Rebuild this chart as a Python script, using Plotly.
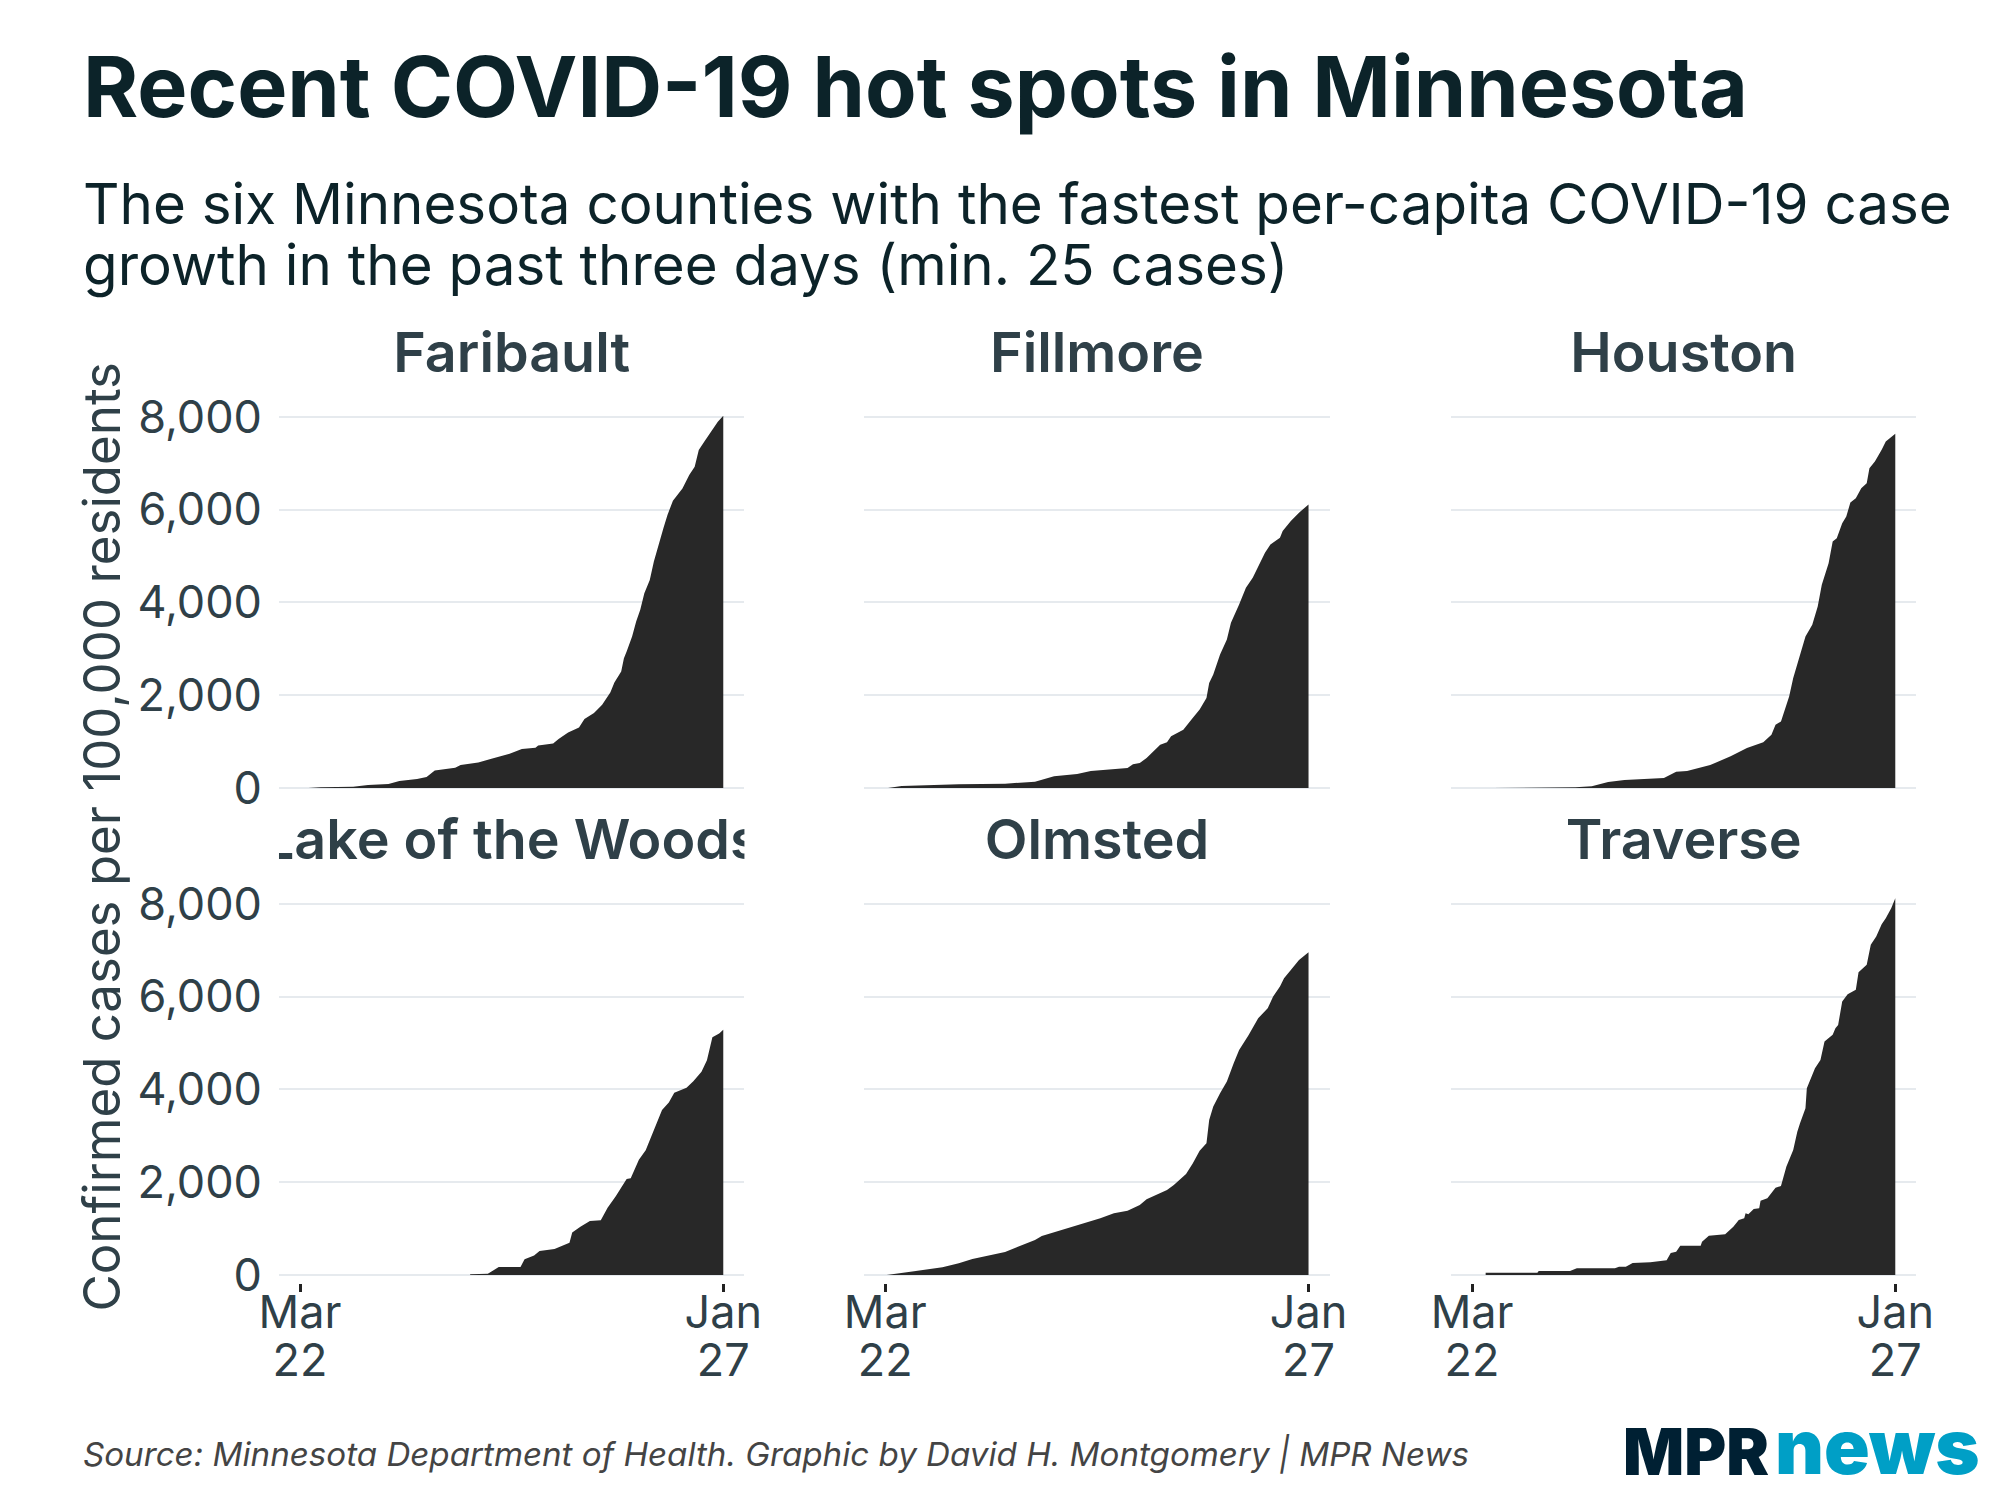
import pandas as pd
import plotly.graph_objects as go

W, H = 2000, 1500
START = "2020-03-22"
TITLE = "Recent COVID-19 hot spots in Minnesota"
SUB1 = "The six Minnesota counties with the fastest per-capita COVID-19 case"
SUB2 = "growth in the past three days (min. 25 cases)"
YTITLE = "Confirmed cases per 100,000 residents"
SOURCE = "Source: Minnesota Department of Health. Graphic by David H. Montgomery | MPR News"
Y_TICKS = [0, 2000, 4000, 6000, 8000]
Y_LABELS = ["0", "2,000", "4,000", "6,000", "8,000"]
X_TICKS = ["2020-03-22", "2021-01-27"]
X_MONTHS = ["Mar", "Jan"]
X_DAYS = ["22", "27"]
COUNTIES = ["Faribault", "Fillmore", "Houston", "Lake of the Woods", "Olmsted", "Traverse"]

faribault_days = [6, 15, 39, 50, 65, 73, 86, 93, 99, 114, 118, 131, 140, 149, 154, 163, 173, 175, 186, 190, 197, 205, 209, 216, 222, 228, 231, 236, 238, 240, 244, 247, 250, 253, 257, 260, 263, 267, 270, 274, 281, 286, 290, 293, 297, 302, 307, 311]
faribault_vals = [0, 14, 29, 65, 86, 150, 194, 237, 380, 438, 495, 552, 624, 696, 739, 840, 868, 918, 961, 1055, 1198, 1306, 1485, 1614, 1794, 2059, 2274, 2511, 2798, 2942, 3265, 3587, 3839, 4197, 4484, 4879, 5202, 5596, 5883, 6192, 6457, 6744, 6924, 7283, 7462, 7677, 7892, 8022]

fillmore_days = [2, 12, 54, 88, 110, 124, 141, 151, 178, 182, 187, 192, 202, 207, 210, 219, 225, 231, 236, 238, 241, 246, 251, 254, 260, 265, 270, 274, 279, 283, 290, 292, 298, 304, 311]
fillmore_vals = [0, 43, 79, 93, 137, 252, 302, 367, 431, 510, 539, 647, 935, 985, 1114, 1258, 1474, 1690, 1941, 2265, 2445, 2876, 3200, 3559, 3955, 4314, 4530, 4781, 5069, 5249, 5393, 5536, 5752, 5932, 6112]

houston_days = [15, 76, 88, 100, 112, 128, 141, 150, 158, 175, 190, 202, 214, 220, 223, 227, 233, 236, 240, 245, 250, 254, 257, 262, 265, 268, 272, 275, 278, 282, 286, 290, 292, 296, 301, 304, 311]
houston_vals = [0, 14, 36, 129, 172, 187, 215, 352, 366, 495, 682, 862, 984, 1149, 1364, 1436, 1974, 2369, 2764, 3267, 3518, 3913, 4380, 4846, 5313, 5385, 5708, 5852, 6153, 6247, 6462, 6570, 6893, 7036, 7288, 7467, 7632]

lake_days = [125, 138, 146, 162, 165, 172, 176, 187, 198, 200, 206, 213, 221, 226, 232, 240, 243, 249, 254, 262, 266, 271, 275, 284, 289, 295, 299, 303, 308, 311]
lake_vals = [15, 25, 173, 173, 338, 421, 520, 561, 693, 916, 1040, 1163, 1180, 1452, 1700, 2070, 2087, 2483, 2690, 3267, 3556, 3720, 3927, 4034, 4175, 4380, 4628, 5123, 5205, 5288]

olmsted_days = [1, 22, 42, 54, 64, 88, 110, 115, 139, 158, 168, 178, 187, 192, 207, 212, 221, 226, 231, 236, 238, 241, 246, 251, 256, 260, 267, 274, 281, 285, 290, 293, 298, 304, 311]
olmsted_vals = [0, 79, 165, 251, 345, 496, 755, 841, 1056, 1222, 1329, 1387, 1509, 1631, 1832, 1940, 2177, 2407, 2680, 2838, 3341, 3629, 3916, 4168, 4563, 4850, 5174, 5533, 5749, 6000, 6216, 6396, 6575, 6791, 6956]

traverse_days = [10, 48, 49, 72, 77, 105, 108, 113, 118, 131, 143, 146, 150, 153, 168, 169, 174, 186, 192, 196, 200, 201, 203, 207, 211, 212, 217, 223, 227, 231, 236, 239, 241, 245, 246, 252, 256, 259, 265, 267, 269, 272, 276, 282, 284, 290, 293, 297, 301, 304, 308, 311]
traverse_vals = [50, 50, 86, 86, 144, 144, 180, 180, 259, 273, 316, 474, 503, 632, 632, 719, 848, 877, 1042, 1186, 1222, 1330, 1308, 1423, 1437, 1603, 1653, 1883, 1919, 2336, 2695, 3090, 3270, 3594, 4025, 4456, 4636, 5031, 5175, 5318, 5390, 5893, 6051, 6145, 6526, 6684, 7115, 7295, 7560, 7690, 7906, 8121]

SERIES = [(faribault_days, faribault_vals), (fillmore_days, fillmore_vals), (houston_days, houston_vals),
          (lake_days, lake_vals), (olmsted_days, olmsted_vals), (traverse_days, traverse_vals)]

INK = "#0c2329"
SLATE = "#2f4048"
GRID = "#e6eaee"
AREA = "#282828"
FONT = "Inter"
X_RANGE = ["2020-03-06 13:00", "2021-02-11 13:00"]

# layout in pixels
COL_LEFT = [274.5, 863, 1453]
PANEL_W = 468
ROW_TOP = [408.8, 895.8]
PANEL_H = 387.2
TITLE_Y = [358, 845]

def px_x(p): return p / W
def px_y(p): return 1 - p / H

fig = go.Figure()
layout = dict(
    width=W, height=H, margin=dict(l=0, r=0, t=0, b=0), autosize=False,
    paper_bgcolor="white", plot_bgcolor="white", showlegend=False,
    font=dict(family=FONT, color=SLATE), hovermode=False,
)

start = pd.Timestamp(START)
for i, (county, (days, vals)) in enumerate(zip(COUNTIES, SERIES)):
    row, col = i // 3, i % 3
    n = i + 1
    xa, ya = f"x{n}", f"y{n}"
    dates = [(start + pd.Timedelta(days=int(d))).strftime("%Y-%m-%d") for d in days]
    fig.add_trace(go.Scatter(x=dates, y=vals, xaxis=xa, yaxis=ya, mode="lines",
                             line=dict(width=0, color=AREA), fill="tozeroy", fillcolor=AREA))
    left, top = COL_LEFT[col], ROW_TOP[row]
    dom = [px_x(left), px_x(left + PANEL_W)]
    layout[f"xaxis{n}"] = dict(
        domain=dom, anchor=ya, type="date", range=X_RANGE,
        showgrid=False, zeroline=False, showline=False,
        tickmode="array", tickvals=X_TICKS, ticktext=X_MONTHS if row == 1 else ["", ""],
        ticks="outside" if row == 1 else "", ticklen=8, tickwidth=2.5, tickcolor="#222222",
        ticklabelstandoff=-18, tickfont=dict(family=FONT, size=45, color=SLATE), tickangle=0, automargin=False,
    )
    layout[f"yaxis{n}"] = dict(
        domain=[px_y(top + PANEL_H), px_y(top)], anchor=xa, range=[-172, 8172],
        tickmode="array", tickvals=Y_TICKS, ticktext=Y_LABELS if col == 0 else [""] * 5,
        showgrid=True, gridcolor=GRID, gridwidth=2, zeroline=False, showline=False, ticks="",
        ticklabelstandoff=16, tickfont=dict(family=FONT, size=45, color=SLATE), automargin=False,
    )
    # facet strip: a hidden axis pair so the label is clipped to the panel width
    m = i + 7
    fig.add_trace(go.Scatter(x=[0.5], y=[0.5], xaxis=f"x{m}", yaxis=f"y{m}", mode="text",
                             text=[county], textposition="middle center", cliponaxis=True,
                             textfont=dict(family=FONT, size=55.6, color=SLATE, weight=600)))
    cy = TITLE_Y[row]
    layout[f"xaxis{m}"] = dict(domain=dom, anchor=f"y{m}", range=[0, 1], visible=False)
    layout[f"yaxis{m}"] = dict(domain=[px_y(cy + 45), px_y(cy - 45)], anchor=f"x{m}", range=[0, 1], visible=False)
    # second tick-label line of the date axis, set on its own overlaid axis
    if row == 1:
        d = i + 10
        fig.add_trace(go.Scatter(x=X_TICKS, y=[0, 0], xaxis=f"x{d}", yaxis=ya, mode="lines",
                                 line=dict(width=0, color=AREA), opacity=0))
        layout[f"xaxis{d}"] = dict(
            domain=dom, anchor=ya, overlaying=xa, type="date", range=X_RANGE,
            showgrid=False, zeroline=False, showline=False, tickmode="array", tickvals=X_TICKS, ticktext=X_DAYS,
            ticks="", ticklabelstandoff=47, tickfont=dict(family=FONT, size=45, color=SLATE), tickangle=0,
        )

def note(text, x, y, size, color=INK, weight=400, xanchor="left", style="normal", angle=0):
    return dict(text=text, x=px_x(x), y=px_y(y), xref="paper", yref="paper", xanchor=xanchor, yanchor="middle",
                showarrow=False, textangle=angle,
                font=dict(family=FONT, size=size, color=color, weight=weight, style=style))

layout["annotations"] = [
    note(TITLE, 75, 85.5, 84.3, weight=700),
    note(SUB1, 75, 203.5, 56.5),
    note(SUB2, 75, 264.5, 56.5),
    note(YTITLE, 96, 837, 51, color=SLATE, xanchor="center", angle=-90),
    note(SOURCE, 75, 1453.5, 33.15, color="#444444", style="italic"),
    note("MPR", 1624, 1451, 64, color="#002033", weight=900),
    note("news", 1777, 1446, 75.5, color="#009fc6", weight=900),
]
fig.update_layout(**layout)
fig.write_html("out.html", config={"displayModeBar": False}, post_script="document.body.style.margin='0';")
